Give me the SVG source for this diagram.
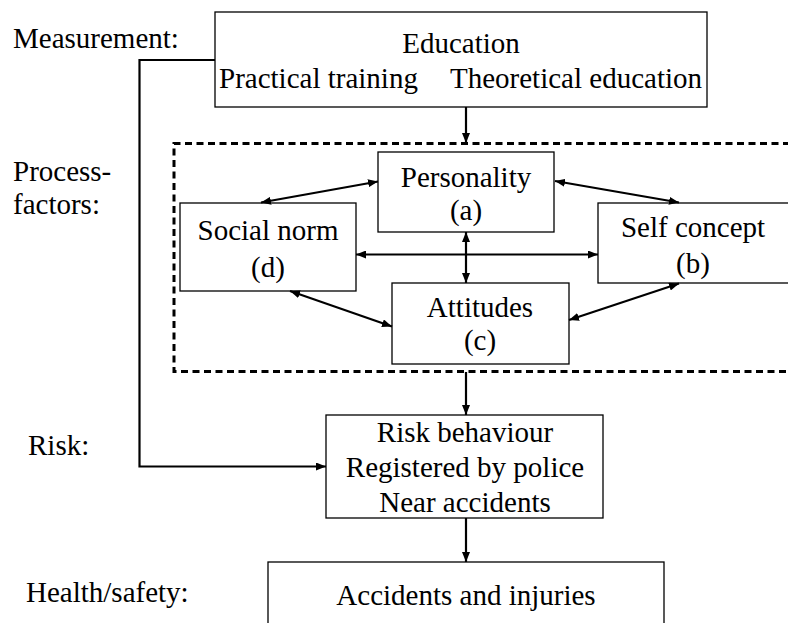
<svg xmlns="http://www.w3.org/2000/svg" width="788" height="623" viewBox="0 0 788 623">
  <style>
    text { font-family: "Liberation Serif", "DejaVu Serif", serif; font-size: 29px; fill: #000; }
    .c { text-anchor: middle; }
    .box { fill: #fff; stroke: #000; stroke-width: 1.3; }
    .conn { fill: none; stroke: #000; stroke-width: 2.2; }
    .frame { fill: none; stroke: #000; stroke-width: 3; stroke-dasharray: 7 4.5; }
  </style>
  <defs>
    <marker id="arr" viewBox="0 0 10 8" refX="10" refY="4" markerWidth="10" markerHeight="8" markerUnits="userSpaceOnUse" orient="auto-start-reverse">
      <path d="M0,0 L10,4 L0,8 z" fill="#000"/>
    </marker>
  </defs>

  <rect width="788" height="623" fill="#fff"/>

  <!-- row labels -->
  <g id="labels">
    <text x="13" y="48">Measurement:</text>
    <text x="13" y="181">Process-</text>
    <text x="13" y="214">factors:</text>
    <text x="28" y="455">Risk:</text>
    <text x="26" y="602">Health/safety:</text>
  </g>

  <!-- dashed frame around the process factors -->
  <g id="process-frame">
    <path class="frame" d="M790,143.5 H174 V371.5 H790"/>
  </g>

  <g id="education">
    <rect class="box" x="215" y="12" width="492" height="95"/>
    <text class="c" x="461" y="53">Education</text>
    <text x="219" y="88">Practical training</text>
    <text x="450" y="88">Theoretical education</text>
  </g>

  <g id="personality">
    <rect class="box" x="378" y="152" width="176" height="80"/>
    <text class="c" x="466" y="187">Personality</text>
    <text class="c" x="466" y="220">(a)</text>
  </g>

  <g id="social-norm">
    <rect class="box" x="180" y="203" width="176" height="88"/>
    <text class="c" x="268" y="240">Social norm</text>
    <text class="c" x="268" y="277">(d)</text>
  </g>

  <g id="self-concept">
    <rect class="box" x="598" y="203" width="200" height="80"/>
    <text class="c" x="693" y="237">Self concept</text>
    <text class="c" x="693" y="273">(b)</text>
  </g>

  <g id="attitudes">
    <rect class="box" x="392" y="283" width="177" height="81"/>
    <text class="c" x="480" y="317">Attitudes</text>
    <text class="c" x="480" y="350">(c)</text>
  </g>

  <g id="risk">
    <rect class="box" x="326" y="415" width="277" height="103"/>
    <text class="c" x="465" y="442">Risk behaviour</text>
    <text class="c" x="465" y="477">Registered by police</text>
    <text class="c" x="465" y="512">Near accidents</text>
  </g>

  <g id="accidents">
    <rect class="box" x="268" y="562" width="396" height="70"/>
    <text class="c" x="466" y="605">Accidents and injuries</text>
  </g>

  <g id="connectors">
    <line class="conn" x1="466" y1="107" x2="466" y2="143" marker-end="url(#arr)"/>
    <line class="conn" x1="378" y1="181.5" x2="261" y2="202.5" marker-start="url(#arr)" marker-end="url(#arr)"/>
    <line class="conn" x1="555" y1="181" x2="679" y2="202.5" marker-start="url(#arr)" marker-end="url(#arr)"/>
    <line class="conn" x1="356" y1="254.5" x2="598" y2="254.5" marker-start="url(#arr)" marker-end="url(#arr)"/>
    <line class="conn" x1="466" y1="232" x2="466" y2="283" marker-start="url(#arr)" marker-end="url(#arr)"/>
    <line class="conn" x1="290" y1="291" x2="392" y2="326.5" marker-start="url(#arr)" marker-end="url(#arr)"/>
    <line class="conn" x1="679" y1="283.5" x2="569" y2="320" marker-start="url(#arr)" marker-end="url(#arr)"/>
    <line class="conn" x1="466" y1="372" x2="466" y2="415" marker-end="url(#arr)"/>
    <line class="conn" x1="466" y1="518" x2="466" y2="562" marker-end="url(#arr)"/>
    <path class="conn" d="M215,60 H139.5 V466.5 H326" marker-end="url(#arr)"/>
  </g>
</svg>
